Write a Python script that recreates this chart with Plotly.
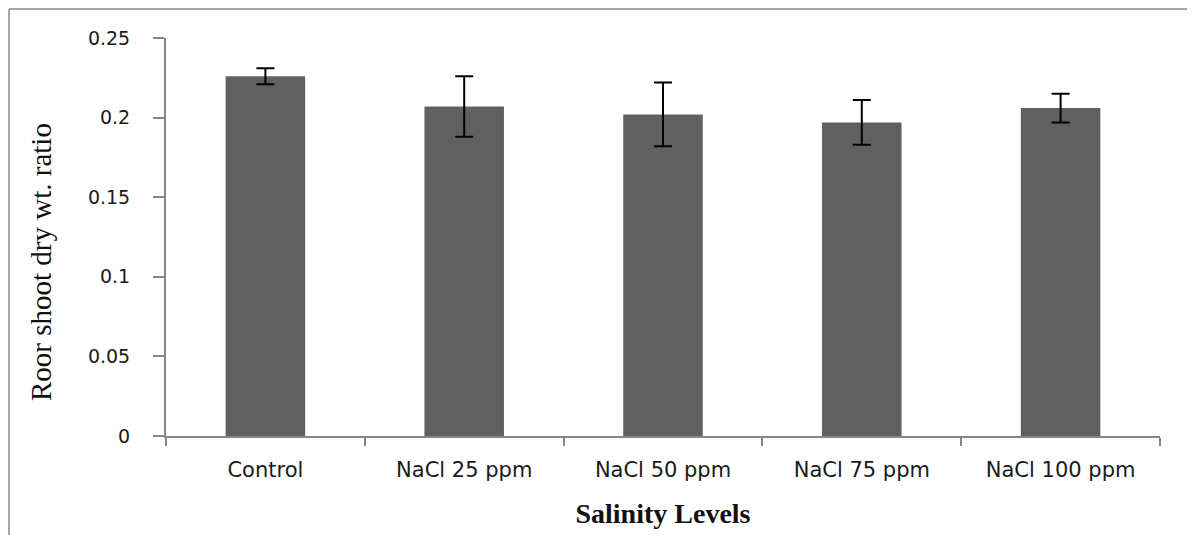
import plotly.graph_objects as go

categories = ["Control", "NaCl 25 ppm", "NaCl 50 ppm", "NaCl 75 ppm", "NaCl 100 ppm"]
ratio_values = [0.226, 0.207, 0.202, 0.197, 0.206]
ratio_errors = [0.005, 0.019, 0.020, 0.014, 0.009]
y_tick_vals = [0, 0.05, 0.1, 0.15, 0.2, 0.25]
y_tick_text = ["0", "0.05", "0.1", "0.15", "0.2", "0.25"]

# page has an 8px body margin; figure coordinates are page coordinates minus 8
OFF = 8
W, H = 1195 - OFF, 535 - OFF
L, R, T, B = 166 - OFF, W - (1160 - OFF), 38 - OFF, H - (436 - OFF)
pw, ph = W - L - R, H - T - B

def px_x(x):
    return (x - OFF - L) / pw

def px_y(y):
    return (H - B - (y - OFF)) / ph

fig = go.Figure()
fig.add_trace(go.Bar(
    x=categories, y=ratio_values,
    marker=dict(color="#606060", line=dict(width=0)),
    error_y=dict(type="data", array=ratio_errors, visible=True,
                 color="#000000", thickness=2, width=9),
    width=0.4,
))

axis_col = "#868686"
fig.update_layout(
    width=W, height=H,
    margin=dict(l=L, r=R, t=T, b=B, autoexpand=False),
    paper_bgcolor="white", plot_bgcolor="white",
    showlegend=False,
    xaxis=dict(
        type="category", showline=True, linecolor=axis_col, linewidth=2,
        ticks="outside", tickson="boundaries", ticklen=8, tickcolor=axis_col, tickwidth=2,
        showgrid=False, zeroline=False,
        tickfont=dict(family="DejaVu Sans", size=21, color="#1a1a1a"),
        ticklabelstandoff=14,
        title=dict(text="<b>Salinity Levels</b>",
                   font=dict(family="Liberation Serif, Times New Roman, serif", size=28, color="#111111"),
                   standoff=22),
        automargin=False,
    ),
    yaxis=dict(
        range=[0, 0.25], tickvals=y_tick_vals, ticktext=y_tick_text,
        showline=True, linecolor=axis_col, linewidth=2,
        ticks="outside", ticklen=11, tickcolor=axis_col, tickwidth=2,
        showgrid=False, zeroline=False,
        tickfont=dict(family="DejaVu Sans", size=19, color="#1a1a1a"),
        ticklabelstandoff=19,
        automargin=False,
    ),
    annotations=[dict(
        text="Roor shoot dry wt. ratio", textangle=-90,
        xref="paper", yref="paper", x=px_x(41), y=px_y(262),
        xanchor="center", yanchor="middle", showarrow=False,
        font=dict(family="Liberation Serif, Times New Roman, serif", size=29, color="#111111"),
    )],
    shapes=[
        dict(type="line", xref="paper", yref="paper",
             x0=px_x(9), y0=px_y(9), x1=px_x(1200), y1=px_y(9),
             line=dict(color="#a6a6a6", width=2)),
        dict(type="line", xref="paper", yref="paper",
             x0=px_x(9), y0=px_y(9), x1=px_x(9), y1=px_y(540),
             line=dict(color="#a6a6a6", width=2)),
    ],
)

fig.write_html("out.html")
